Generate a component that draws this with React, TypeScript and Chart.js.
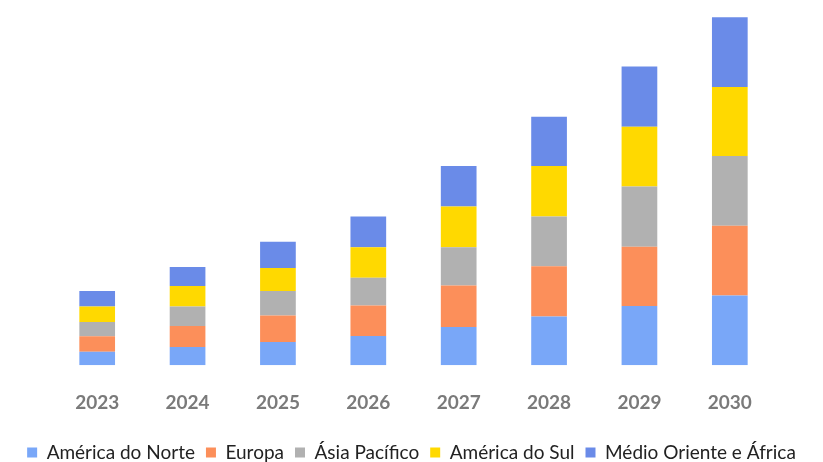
import React, { useEffect, useRef } from "react";
import { Chart, registerables } from "chart.js";

Chart.register(...registerables);

const years = ["2023", "2024", "2025", "2026", "2027", "2028", "2029", "2030"];
const americaNorte = [1.34, 1.84, 2.34, 2.94, 3.84, 4.9, 5.94, 7.0];
const europa = [1.56, 2.1, 2.66, 3.06, 4.16, 5.04, 5.96, 7.0];
const asiaPacifico = [1.44, 1.96, 2.44, 2.77, 3.84, 5.0, 6.04, 7.0];
const americaSul = [1.56, 2.04, 2.33, 3.07, 4.1, 5.06, 6.0, 6.94];
const medioOriente = [1.54, 1.93, 2.63, 3.1, 4.06, 4.94, 6.06, 7.0];

const seriesNames = ["América do Norte", "Europa", "Ásia Pacífico", "América do Sul", "Médio Oriente e África"];
const seriesColors = ["#79A7F8", "#FC8F5A", "#B1B1B1", "#FFD900", "#6A8BE8"];

export default function App() {
  const ref = useRef<HTMLCanvasElement>(null);
  useEffect(() => {
    const values = [americaNorte, europa, asiaPacifico, americaSul, medioOriente];
    const hiddenAxis = (pos: "left" | "right", w: number) => ({
      position: pos,
      display: true,
      grid: { display: false },
      border: { display: false },
      ticks: { display: false },
      afterFit: (s: any) => {
        s.width = w;
      },
    });
    const chart = new Chart(ref.current!, {
      type: "bar",
      data: {
        labels: years,
        datasets: values.map((d, i) => ({
          label: seriesNames[i],
          data: d,
          backgroundColor: seriesColors[i],
          borderWidth: 0,
          barPercentage: 0.79,
          categoryPercentage: 0.5,
        })),
      },
      options: {
        responsive: false,
        animation: false,
        devicePixelRatio: 1,
        layout: { padding: { left: 0, right: 0, top: 0, bottom: -10 } },
        scales: {
          x: {
            stacked: true,
            grid: { display: false },
            border: { display: false },
            ticks: {
              color: "#7a7a7a",
              padding: 18,
              font: { family: "Lato, sans-serif", size: 19, weight: "bold" },
            },
          },
          y: {
            stacked: true,
            min: 0,
            max: 36.67,
            ...hiddenAxis("left", 52),
          },
          y2: {
            ...hiddenAxis("right", 48),
          },
        },
        plugins: {
          legend: {
            position: "bottom",
            labels: {
              boxWidth: 10,
              boxHeight: 10,
              padding: 11,
              color: "#222222",
              font: { family: "Lato, sans-serif", size: 19 },
            },
          },
          tooltip: { enabled: false },
        },
      },
    });
    return () => chart.destroy();
  }, []);
  return (
    <div style={{ position: "absolute", left: 0, top: 0, width: 823, height: 462, background: "#fff" }}>
      <canvas ref={ref} width={823} height={462} />
    </div>
  );
}
